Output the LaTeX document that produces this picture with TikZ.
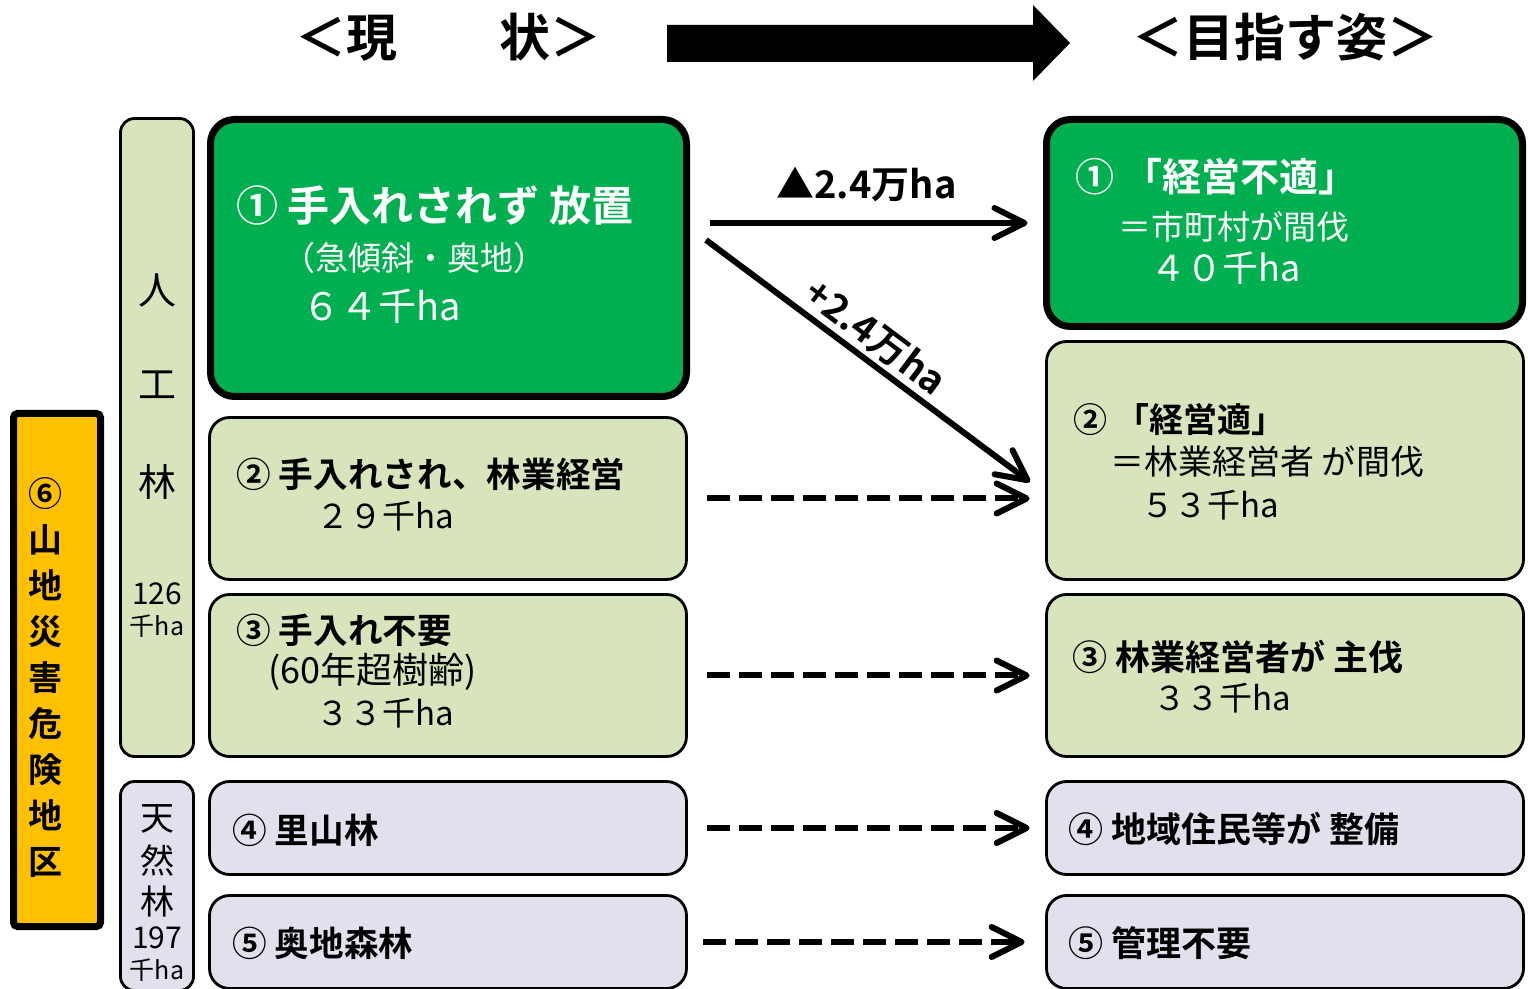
\documentclass[tikz,border=0pt]{standalone}
\usepackage{fontspec}
\setmainfont{Noto Sans CJK JP}[BoldFont={Noto Sans CJK JP Bold}]
\usetikzlibrary{arrows.meta}
\definecolor{mgreen}{HTML}{00B050}
\definecolor{lgreen}{HTML}{D8E4BC}
\definecolor{lav}{HTML}{E4DFEC}
\definecolor{orng}{HTML}{FFC000}
\newcommand{\myfs}[1]{\fontsize{#1}{#1}\selectfont}
\tikzset{
  thinbox/.style={draw=black, line width=1.4pt, rounded corners=10pt, inner sep=0pt},
  thickbox/.style={draw=black, line width=3.5pt, rounded corners=12pt, inner sep=0pt, fill=mgreen},
  txt/.style={inner sep=0pt, anchor=west},
  ctxt/.style={inner sep=0pt, anchor=center},
  arr/.style={line width=3pt, -{Straight Barb[length=15pt,width=15pt,round]}},
  darr/.style={arr, dash pattern=on 11.5pt off 4.5pt},
}
\begin{document}
\begin{tikzpicture}[x=0.5pt,y=-0.5pt]
\useasboundingbox (0,0) rectangle (1528,989);
% headers
\node[ctxt, font=\myfs{25.5pt}\bfseries] (hL) at (448,37) {＜現　　状＞};
\node[ctxt, font=\myfs{25.5pt}\bfseries] (hR) at (1285,37) {＜目指す姿＞};
\fill[black] (667,25) -- (1033,25) -- (1033,5) -- (1070,43) -- (1033,81) -- (1033,62) -- (667,62) -- cycle;
% orange box
\node[draw=black, line width=3.5pt, fill=orng, rounded corners=2pt, minimum width=43.5pt, minimum height=256.5pt, inner sep=0pt] (org) at (57,670) {};
\node[ctxt, align=center, font={\fontsize{17pt}{23pt}\selectfont\bfseries}] (orgt) at (45,678) {⑥\\山\\地\\災\\害\\危\\険\\地\\区};
% left category boxes
\node[thinbox, fill=lgreen, rounded corners=7pt, minimum width=36.5pt, minimum height=319pt] (jin) at (157,437.5) {};
\node[ctxt, font=\myfs{19pt}] (j1) at (157,290) {人};
\node[ctxt, font=\myfs{19pt}] (j2) at (157,385) {工};
\node[ctxt, font=\myfs{19pt}] (j3) at (157,482) {林};
\node[ctxt, font=\myfs{15pt}] (j4) at (157,594) {126};
\node[ctxt, font=\myfs{12.5pt}] (j5) at (157,626) {千ha};
\node[thinbox, fill=lav, rounded corners=7pt, minimum width=36.5pt, minimum height=104.5pt] (ten) at (157,886) {};
\node[ctxt, font=\myfs{17pt}] (t1) at (157,819) {天};
\node[ctxt, font=\myfs{17pt}] (t2) at (157,860) {然};
\node[ctxt, font=\myfs{17pt}] (t3) at (157,902) {林};
\node[ctxt, font=\myfs{15pt}] (t4) at (157,938) {197};
\node[ctxt, font=\myfs{12.5pt}] (t5) at (157,970) {千ha};
% left boxes
\node[thickbox, minimum width=238pt, minimum height=138.5pt] (L1) at (448.5,258) {};
\node[thinbox, fill=lgreen, minimum width=238.5pt, minimum height=81pt] (L2) at (448,498.5) {};
\node[thinbox, fill=lgreen, minimum width=238.5pt, minimum height=81pt] (L3) at (448,675.5) {};
\node[thinbox, fill=lav, minimum width=238.5pt, minimum height=46.5pt] (L4) at (448,828) {};
\node[thinbox, fill=lav, minimum width=238.5pt, minimum height=46.5pt] (L5) at (448,942) {};
% right boxes
\node[thickbox, minimum width=238pt, minimum height=103.5pt] (R1) at (1284.5,223) {};
\node[thinbox, fill=lgreen, minimum width=238.5pt, minimum height=119pt] (R2) at (1285,460.5) {};
\node[thinbox, fill=lgreen, minimum width=238.5pt, minimum height=81pt] (R3) at (1285,675.5) {};
\node[thinbox, fill=lav, minimum width=238.5pt, minimum height=46.5pt] (R4) at (1285,828) {};
\node[thinbox, fill=lav, minimum width=238.5pt, minimum height=46.5pt] (R5) at (1285,942) {};
% left texts
\node[txt, text=white, font=\myfs{21pt}\bfseries] (L1a) at (236,206) {① 手入れされず 放置};
\node[txt, text=white, font=\myfs{16.5pt}] (L1b) at (282,258) {（急傾斜・奥地）};
\node[txt, text=white, font=\myfs{19pt}] (L1c) at (302,306) {６４千ha};
\node[txt, font=\myfs{17.3pt}\bfseries] (L2a) at (236,474) {② 手入れされ、林業経営};
\node[txt, font=\myfs{16.5pt}] (L2b) at (316,516) {２９千ha};
\node[txt, font=\myfs{17.3pt}\bfseries] (L3a) at (236,630) {③ 手入れ不要};
\node[txt, font=\myfs{18pt}] (L3b) at (268,672) {(60年超樹齢)};
\node[txt, font=\myfs{16.5pt}] (L3c) at (316,713) {３３千ha};
\node[txt, font=\myfs{17.3pt}\bfseries] (L4a) at (232,830) {④ 里山林};
\node[txt, font=\myfs{17.3pt}\bfseries] (L5a) at (232,943) {⑤ 奥地森林};
% right texts
\node[txt, text=white, font=\myfs{19.5pt}\bfseries] (R1a) at (1075,177) {① 「経営不適」};
\node[txt, text=white, font=\myfs{16.5pt}] (R1b) at (1118,227) {＝市町村が間伐};
\node[txt, text=white, font=\myfs{18pt}] (R1c) at (1150,268) {４０千ha};
\node[txt, font=\myfs{17pt}\bfseries] (R2a) at (1073,420) {② 「経営適」};
\node[txt, font=\myfs{17pt}] (R2b) at (1110,462) {＝林業経営者 が間伐};
\node[txt, font=\myfs{16.5pt}] (R2c) at (1141,505) {５３千ha};
\node[txt, font=\myfs{17.5pt}\bfseries] (R3a) at (1072,657) {③ 林業経営者が 主伐};
\node[txt, font=\myfs{16.5pt}] (R3b) at (1153,698) {３３千ha};
\node[txt, font=\myfs{17.5pt}\bfseries] (R4a) at (1068,829) {④ 地域住民等が 整備};
\node[txt, font=\myfs{17.5pt}\bfseries] (R5a) at (1068,943) {⑤ 管理不要};
% arrows
\coordinate (ds) at (706,240);
\coordinate (de) at (1030,482);
\draw[arr, shorten <=9.75pt, shorten >=7.75pt] (L1.east |- R1.west) -- node[midway, above=9pt, inner sep=0pt, font=\myfs{19pt}\bfseries] (lab1) {▲2.4万ha} (R1.west);
\draw[arr] (ds) -- node[pos=0.48, sloped, above=2pt, inner sep=0pt, font=\myfs{19pt}\bfseries] (lab2) {+2.4万ha} (de);
\draw[darr, shorten <=9.75pt, shorten >=7.75pt] (L2.east) -- (L2.east -| R2.west);
\draw[darr, shorten <=9.75pt, shorten >=7.75pt] (L3.east) -- (R3.west);
\draw[darr, shorten <=9.75pt, shorten >=7.75pt] (L4.east) -- (R4.west);
\draw[darr, shorten <=7.75pt, shorten >=10.25pt] (L5.east) -- (R5.west);
\end{tikzpicture}
\end{document}
